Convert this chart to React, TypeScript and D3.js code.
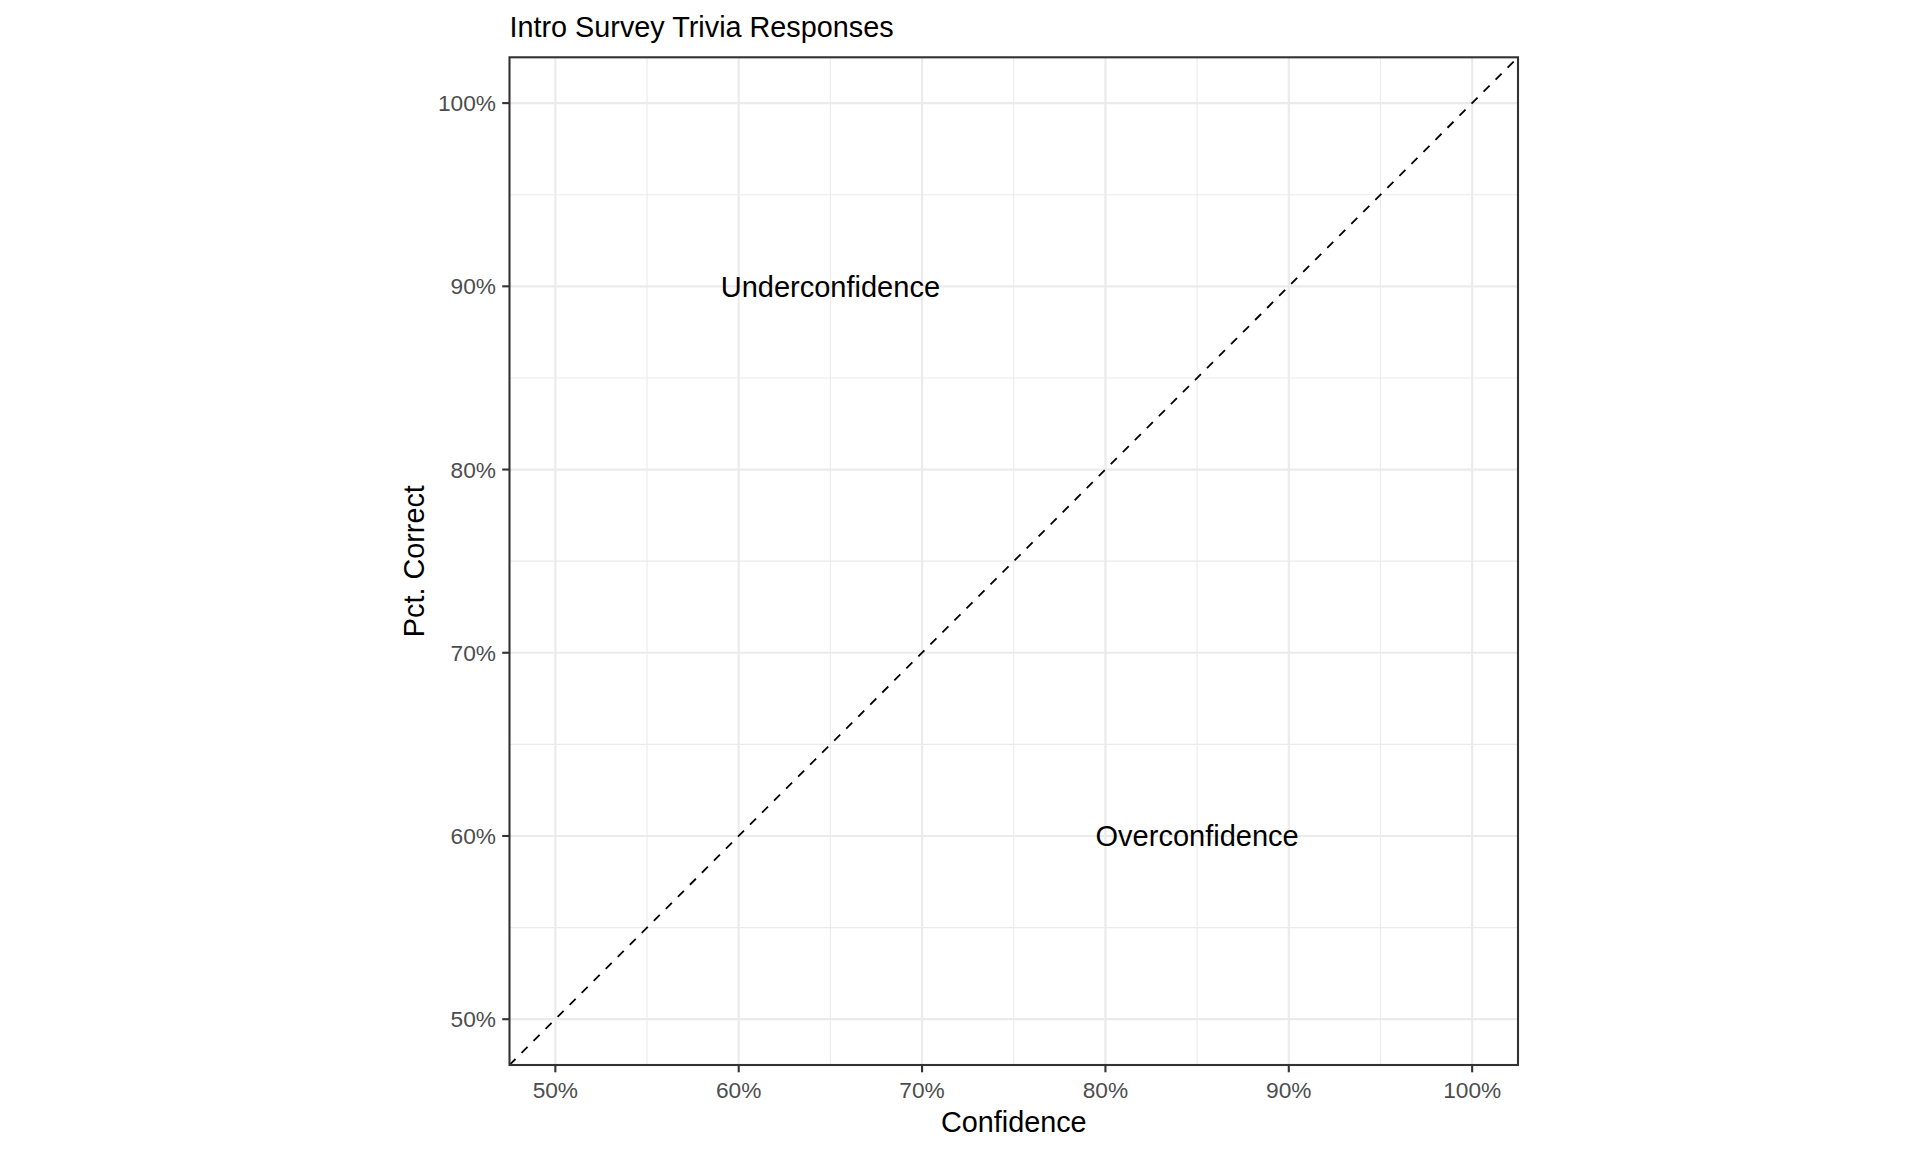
import React from "react";
import * as d3 from "d3";

const title = "Intro Survey Trivia Responses";
const xLabel = "Confidence";
const yLabel = "Pct. Correct";
const majorBreaks = [0.5, 0.6, 0.7, 0.8, 0.9, 1.0];
const minorBreaks = [0.55, 0.65, 0.75, 0.85, 0.95];
const domain = [0.475, 1.025];
const refLine = [
  [0.475, 0.475],
  [1.025, 1.025],
];
const annotations = [
  { label: "Underconfidence", x: 0.65, y: 0.9 },
  { label: "Overconfidence", x: 0.85, y: 0.6 },
];

const W = 1920;
const H = 1152;
const left = 509.5;
const right = 1518;
const top = 57.3;
const bottom = 1065;
const font = "Liberation Sans, Arial, sans-serif";

export default function App() {
  const x = d3.scaleLinear().domain(domain).range([left, right]);
  const y = d3.scaleLinear().domain(domain).range([bottom, top]);
  const fmt = d3.format(".0%");
  const line = d3
    .line<number[]>()
    .x((d) => x(d[0]))
    .y((d) => y(d[1]));

  return (
    <svg
      width={W}
      height={H}
      style={{ position: "absolute", left: 0, top: 0, background: "#fff" }}
      fontFamily={font}
    >
      <rect x={0} y={0} width={W} height={H} fill="#fff" />
      <defs>
        <clipPath id="panel">
          <rect x={left} y={top} width={right - left} height={bottom - top} />
        </clipPath>
      </defs>
      {minorBreaks.map((v) => (
        <g key={"mn" + v}>
          <line x1={x(v)} x2={x(v)} y1={top} y2={bottom} stroke="#EBEBEB" strokeWidth={1.1} />
          <line x1={left} x2={right} y1={y(v)} y2={y(v)} stroke="#EBEBEB" strokeWidth={1.1} />
        </g>
      ))}
      {majorBreaks.map((v) => (
        <g key={"mj" + v}>
          <line x1={x(v)} x2={x(v)} y1={top} y2={bottom} stroke="#EBEBEB" strokeWidth={2.2} />
          <line x1={left} x2={right} y1={y(v)} y2={y(v)} stroke="#EBEBEB" strokeWidth={2.2} />
        </g>
      ))}
      <path
        d={line(refLine) || ""}
        clipPath="url(#panel)"
        fill="none"
        stroke="#000"
        strokeWidth={1.8}
        strokeDasharray="8.5,8.5"
      />
      {annotations.map((a) => (
        <text
          key={a.label}
          x={x(a.x)}
          y={y(a.y)}
          dy="0.36em"
          textAnchor="middle"
          fontSize={29}
          fill="#000"
        >
          {a.label}
        </text>
      ))}
      <rect
        x={left}
        y={top}
        width={right - left}
        height={bottom - top}
        fill="none"
        stroke="#333333"
        strokeWidth={2.1}
      />
      {majorBreaks.map((v) => (
        <g key={"xt" + v}>
          <line x1={x(v)} x2={x(v)} y1={bottom} y2={bottom + 7.3} stroke="#333333" strokeWidth={2.1} />
          <text x={x(v)} y={1098} textAnchor="middle" fontSize={22.7} fill="#4D4D4D">
            {fmt(v)}
          </text>
        </g>
      ))}
      {majorBreaks.map((v) => (
        <g key={"yt" + v}>
          <line x1={left - 7.3} x2={left} y1={y(v)} y2={y(v)} stroke="#333333" strokeWidth={2.1} />
          <text
            x={left - 13.5}
            y={y(v)}
            dy="0.36em"
            textAnchor="end"
            fontSize={22.7}
            fill="#4D4D4D"
          >
            {fmt(v)}
          </text>
        </g>
      ))}
      <text x={(left + right) / 2} y={1132} textAnchor="middle" fontSize={28.8} fill="#000">
        {xLabel}
      </text>
      <text
        transform={`translate(${424},${(top + bottom) / 2}) rotate(-90)`}
        textAnchor="middle"
        fontSize={28.8}
        fill="#000"
      >
        {yLabel}
      </text>
      <text x={left} y={37} fontSize={28.8} fill="#000">
        {title}
      </text>
    </svg>
  );
}
